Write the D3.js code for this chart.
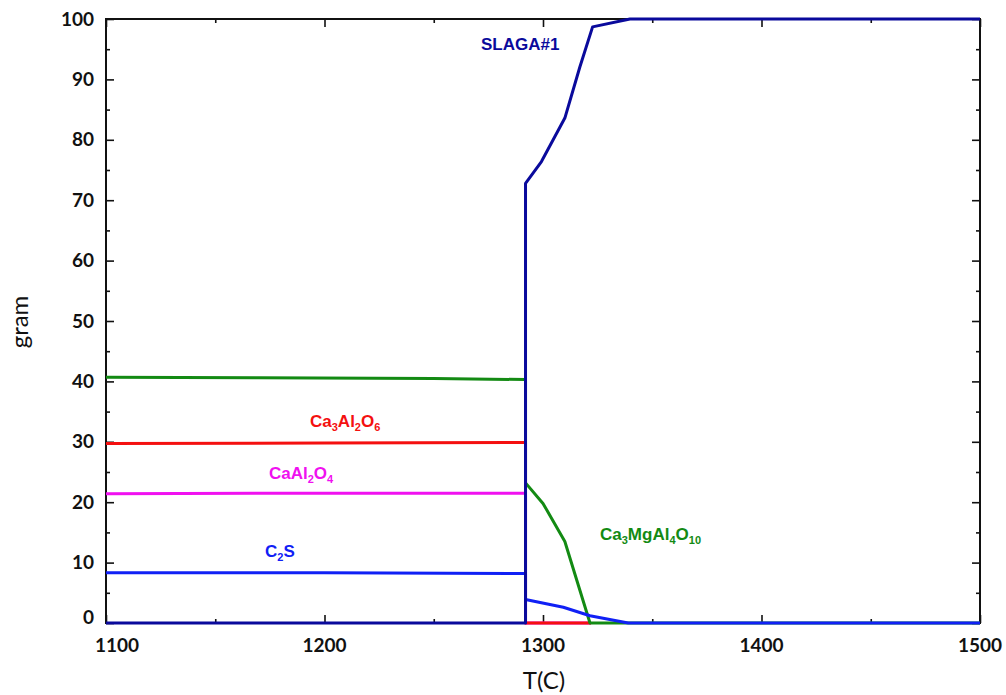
<!DOCTYPE html>
<html>
<head>
<meta charset="utf-8">
<script src="https://cdn.jsdelivr.net/npm/d3@7"></script>
<style>
  html, body { margin: 0; padding: 0; background: #fff; }
  svg { display: block; }
  .tick-label { font-family: Lato, "Open Sans", sans-serif; font-weight: 700; font-size: 19px; fill: #111; }
  .axis-title { font-family: Lato, "Open Sans", sans-serif; font-weight: 400; font-size: 24px; fill: #111; }
  .phase-label { font-family: "Liberation Sans", Arial, sans-serif; font-weight: 700; font-size: 17px; }
</style>
</head>
<body>
<svg id="chart" width="1006" height="695"></svg>
<script>
// Phase amounts (gram) versus temperature T (°C)
const xTicks = [1100, 1200, 1300, 1400, 1500];
const yTicks = [0, 10, 20, 30, 40, 50, 60, 70, 80, 90, 100];
const xMinorTicks = [1150, 1250, 1350, 1450];
const yMinorTicks = [5, 15, 25, 35, 45, 55, 65, 75, 85, 95];

// Ca3MgAl4O10 (green)
const greenT = [1100, 1170, 1250, 1292, 1292, 1300, 1310, 1321.5, 1500];
const greenV = [40.7, 40.6, 40.5, 40.3, 23.2, 19.8, 13.5, 0, 0];

// Ca3Al2O6 (red)
const redT = [1100, 1200, 1292, 1292, 1322];
const redV = [29.7, 29.8, 29.9, 0, 0];

// CaAl2O4 (magenta)
const magentaT = [1100, 1200, 1292, 1292, 1322];
const magentaV = [21.4, 21.5, 21.5, 0, 0];

// C2S (blue)
const c2sT = [1100, 1200, 1292, 1292, 1309.3, 1321.5, 1339, 1500];
const c2sV = [8.3, 8.3, 8.2, 3.9, 2.6, 1.2, 0, 0];

// SLAGA#1 liquid (navy)
const slagT = [1100, 1292, 1292, 1299.3, 1310, 1316.9, 1322.7, 1339.8, 1500];
const slagV = [0, 0, 72.8, 76.4, 83.6, 92.1, 98.7, 100, 100];

const series = [
  { name: "CaAl2O4", T: magentaT, V: magentaV, color: "#f010f0" },
  { name: "Ca3Al2O6", T: redT, V: redV, color: "#f41010" },
  { name: "Ca3MgAl4O10", T: greenT, V: greenV, color: "#138a13" },
  { name: "C2S", T: c2sT, V: c2sV, color: "#1020f5" },
  { name: "SLAGA#1", T: slagT, V: slagV, color: "#0a0a9c" }
];

const svg = d3.select("#chart");
const mLeft = 106, mRight = 980, mTop = 19, mBottom = 623;

const x = d3.scaleLinear().domain([1100, 1500]).range([mLeft, mRight]);
const y = d3.scaleLinear().domain([0, 100]).range([mBottom, mTop]);

// frame with inward ticks on all four sides
const frame = svg.append("g");
const sides = [
  [() => d3.axisBottom(x), `translate(0,${mBottom})`, xTicks, xMinorTicks],
  [() => d3.axisTop(x), `translate(0,${mTop})`, xTicks, xMinorTicks],
  [() => d3.axisLeft(y), `translate(${mLeft},0)`, yTicks, yMinorTicks],
  [() => d3.axisRight(y), `translate(${mRight},0)`, yTicks, yMinorTicks]
];
sides.forEach(([make, tr, major, minor]) => {
  [[major, 8], [minor, 4]].forEach(([vals, len]) => {
    frame.append("g").attr("transform", tr)
      .call(make().tickValues(vals).tickSize(-len).tickSizeOuter(0).tickFormat(""))
      .call(g => g.select(".domain").remove())
      .call(g => g.selectAll("line").attr("stroke", "#111").attr("stroke-width", 1.6));
  });
});

frame.append("rect")
  .attr("x", mLeft).attr("y", mTop)
  .attr("width", mRight - mLeft).attr("height", mBottom - mTop)
  .attr("fill", "none").attr("stroke", "#111").attr("stroke-width", 2);

// curves, drawn above the frame
const line = d3.line().x(d => x(d[0])).y(d => y(d[1]));
const plot = svg.append("g");
series.forEach(s => {
  plot.append("path")
    .datum(s.T.map((t, i) => [t, s.V[i]]))
    .attr("d", line)
    .attr("fill", "none")
    .attr("stroke", s.color)
    .attr("stroke-width", 3)
    .attr("stroke-linejoin", "round");
});

// tick labels
svg.append("g").selectAll("text")
  .data(xTicks).join("text")
  .attr("class", "tick-label")
  .attr("x", d => x(d) + (d === 1100 ? 11 : 0))
  .attr("y", 652)
  .attr("text-anchor", "middle")
  .text(d => d);

svg.append("g").selectAll("text")
  .data(yTicks).join("text")
  .attr("class", "tick-label")
  .attr("x", 94)
  .attr("y", d => Math.min(y(d), 617))
  .attr("dy", "0.35em")
  .attr("text-anchor", "end")
  .text(d => d);

// axis titles
svg.append("text").attr("class", "axis-title")
  .attr("x", 544).attr("y", 689).attr("text-anchor", "middle").text("T(C)");
svg.append("text").attr("class", "axis-title")
  .attr("transform", "translate(28,322) rotate(-90)")
  .attr("text-anchor", "middle").text("gram");

// phase labels with subscripts: parts are [text, isSub]
const labels = [
  { parts: [["SLAGA#1", 0]], x: 481, y: 50, color: "#0a0a9c" },
  { parts: [["Ca", 0], ["3", 1], ["Al", 0], ["2", 1], ["O", 0], ["6", 1]], x: 310, y: 427, color: "#f41010" },
  { parts: [["CaAl", 0], ["2", 1], ["O", 0], ["4", 1]], x: 269, y: 479, color: "#f010f0" },
  { parts: [["C", 0], ["2", 1], ["S", 0]], x: 265, y: 557, color: "#1020f5" },
  { parts: [["Ca", 0], ["3", 1], ["MgAl", 0], ["4", 1], ["O", 0], ["10", 1]], x: 600, y: 540, color: "#138a13" }
];
labels.forEach(l => {
  const t = svg.append("text").attr("class", "phase-label")
    .attr("x", l.x).attr("y", l.y).attr("fill", l.color);
  let sub = false;
  l.parts.forEach(([s, isSub]) => {
    const ts = t.append("tspan").text(s);
    if (isSub) {
      ts.attr("font-size", "11px");
      if (!sub) { ts.attr("dy", 4); sub = true; }
    } else if (sub) {
      ts.attr("dy", -4); sub = false;
    }
  });
});
</script>
</body>
</html>
